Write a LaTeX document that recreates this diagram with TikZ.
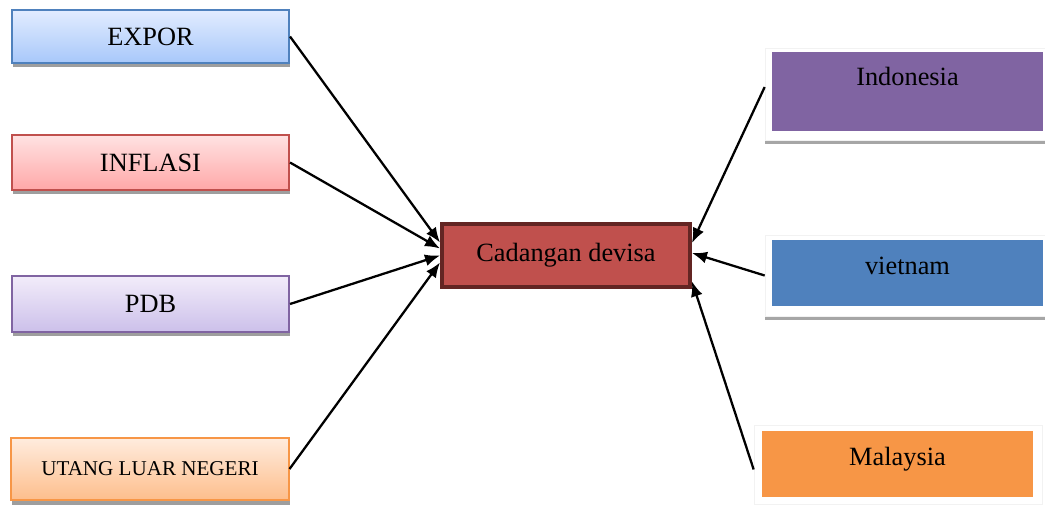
\documentclass[tikz,border=0pt]{standalone}
\usepackage{fontspec}
\setmainfont{Liberation Serif}
\usepackage{tikz}
\usetikzlibrary{arrows.meta,positioning,calc,shadows}
\definecolor{boxblue}{RGB}{79,129,189}
\definecolor{boxred}{RGB}{192,80,77}
\definecolor{boxpurple}{RGB}{128,100,162}
\definecolor{boxorange}{RGB}{247,150,70}
\definecolor{darkred}{RGB}{99,37,35}

\begin{document}
\begin{tikzpicture}[x=0.02cm,y=-0.02cm,
  factor/.style={line width=0.9pt,minimum width=5.55cm,minimum height=1.05cm,
    inner sep=0pt,font=\fontsize{15}{18}\selectfont,
    drop shadow={shadow xshift=0.2mm,shadow yshift=-0.9mm,fill=black!38,opacity=1}},
  panel/.style={draw=black!5,fill=white,inner sep=0pt,minimum width=5.6cm,
    drop shadow={shadow xshift=0mm,shadow yshift=-0.8mm,fill=black!35,opacity=1}},
  country/.style={inner sep=0pt,minimum width=5.42cm,minimum height=1.32cm},
  label/.style={font=\fontsize{15}{18}\selectfont,inner sep=0pt},
  arr/.style={-{Latex[length=3mm,width=2.4mm]},line width=1.3pt,black}
]
  \useasboundingbox (0,0) rectangle (1045,504);

  % left side
  \node[factor,draw=boxblue,top color={rgb,255:red,226;green,236;blue,255},
    bottom color={rgb,255:red,168;green,200;blue,250}] (expor) at (150.5,36.5) {EXPOR};
  \node[factor,draw=boxred,minimum height=1.1cm,top color={rgb,255:red,255;green,226;blue,226},
    bottom color={rgb,255:red,255;green,168;blue,168}] (inflasi) at (150.5,162.5) {INFLASI};
  \node[factor,draw=boxpurple,minimum height=1.12cm,top color={rgb,255:red,242;green,236;blue,250},
    bottom color={rgb,255:red,204;green,192;blue,234}] (pdb) at (150.5,304) {PDB};
  \node[factor,draw=boxorange,minimum height=1.24cm,font=\fontsize{12}{14}\selectfont,
    top color={rgb,255:red,255;green,236;blue,222},
    bottom color={rgb,255:red,253;green,190;blue,140}] (utang) at (150,469) {UTANG LUAR NEGERI};

  % center
  \node[draw=darkred,line width=2.3pt,fill=boxred,minimum width=4.96cm,
    minimum height=1.26cm,font=\fontsize{15}{18}\selectfont] (devisa) at (566,255.5)
    {Cadangan devisa};

  % right side
  \node[panel,minimum height=1.84cm] (indobg) at (905,94) {};
  \node[country,fill=boxpurple,minimum height=1.58cm] (indo) at (907.5,91.5) {};
  \node[label] (indotxt) at ([yshift=-5mm]indo.north) {Indonesia};

  \node[panel,minimum height=1.62cm] (vietbg) at (905,275.5) {};
  \node[country,fill=boxblue] (viet) at (907.5,273) {};
  \node[label] (viettxt) at ([yshift=-5.2mm]viet.north) {vietnam};

  \node[panel,minimum width=5.76cm,minimum height=1.58cm] (malaybg) at (898,464.5) {};
  \node[country,fill=boxorange] (malay) at (897.5,464) {};
  \node[label] (malaytxt) at ([yshift=-5.8mm]malay.north) {Malaysia};

  % arrows
  \draw[arr] (expor.east) -- ([yshift=2.6mm]devisa.west);
  \draw[arr] (inflasi.east) -- ([yshift=1.4mm]devisa.west);
  \draw[arr] (pdb.east) -- ([yshift=0mm]devisa.west);
  \draw[arr] (utang.east) -- ([yshift=-1.4mm]devisa.west);
  \draw[arr] ([yshift=1.4mm]indobg.west) -- ([yshift=2.5mm]devisa.east);
  \draw[arr] (vietbg.west) -- ([yshift=0.5mm]devisa.east);
  \draw[arr] ([yshift=-1mm]malaybg.west) -- ([yshift=-5.2mm]devisa.east);
\end{tikzpicture}
\end{document}
